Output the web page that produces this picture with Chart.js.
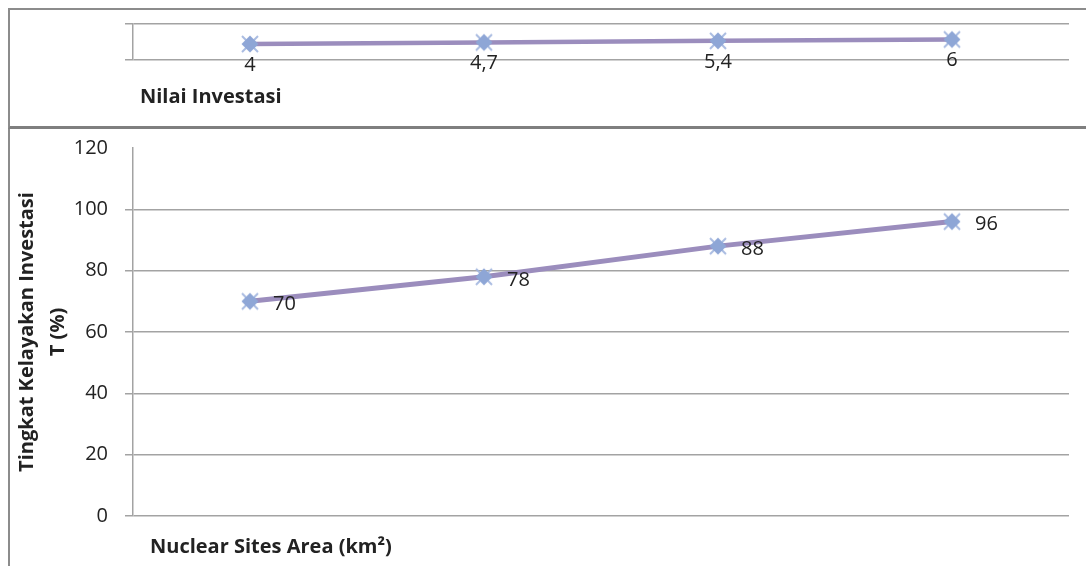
<!DOCTYPE html>
<html><head><meta charset="utf-8">
<script src="https://cdn.jsdelivr.net/npm/chart.js@4"></script>
<style>
html,body{margin:0;padding:0;background:#fff;width:1086px;height:566px;overflow:hidden;position:relative;}
#topPanel{position:absolute;left:8px;top:8px;width:1100px;height:116px;border-top:2px solid #8c8c8c;border-left:2px solid #8c8c8c;border-bottom:3px solid #7f7f7f;}
#leftRule{position:absolute;left:8px;top:129px;width:2px;height:437px;background:#8c8c8c;}
#cTop{position:absolute;left:10px;top:10px;}
#cMain{position:absolute;left:10px;top:130px;}
</style></head>
<body>
<div id="topPanel"></div>
<div id="leftRule"></div>
<canvas id="cTop" width="1076" height="116"></canvas>
<canvas id="cMain" width="1076" height="436"></canvas>
<script>
// ---- data ----
const categories = ['4', '4,7', '5,4', '6'];
const investValues = [4, 4.7, 5.4, 6];
const investLabels = ['4', '4,7', '5,4', '6'];
const feasibility = [70, 78, 88, 96];
const yMin = 0, yMax = 120, yStep = 20;
const topTitle = 'Nilai Investasi';
const xTitle = 'Nuclear Sites Area (km\u00B2)';
const yTitle = ['Tingkat Kelayakan Investasi', 'T (%)'];

const FONT = '"Open Sans", Lato, sans-serif';
const LINE = '#9b8dbd';
const GRID = '#a3a3a3';

function makeMarker() {
  const c = document.createElement('canvas');
  c.width = 22; c.height = 22;
  const g = c.getContext('2d');
  g.strokeStyle = 'rgba(160,180,222,0.9)';
  g.lineWidth = 2;
  g.beginPath(); g.moveTo(3,3); g.lineTo(19,19); g.moveTo(19,3); g.lineTo(3,19); g.stroke();
  g.fillStyle = '#8ea6d6';
  g.beginPath(); g.moveTo(11,2.5); g.lineTo(19.5,11); g.lineTo(11,19.5); g.lineTo(2.5,11); g.closePath(); g.fill();
  return c;
}
const marker = makeMarker();

// ---- top panel ----
const topPlugin = {
  id: 'topLabels',
  afterDatasetsDraw(chart) {
    const ctx = chart.ctx;
    const meta = chart.getDatasetMeta(0);
    ctx.save();
    ctx.font = '20px ' + FONT;
    ctx.fillStyle = '#222';
    ctx.textAlign = 'center';
    ctx.textBaseline = 'middle';
    meta.data.forEach((pt, i) => ctx.fillText(investLabels[i], pt.x, pt.y + 21));
    ctx.font = 'bold 20px ' + FONT;
    ctx.textAlign = 'left';
    ctx.fillText(topTitle, 130, 87);
    ctx.restore();
  }
};

new Chart(document.getElementById('cTop'), {
  type: 'line',
  data: { labels: categories, datasets: [{ data: investValues, borderColor: LINE, borderWidth: 4.5,
    pointStyle: marker, pointRadius: 9, pointHoverRadius: 9, tension: 0 }] },
  options: {
    responsive: false, animation: false, events: [],
    layout: { padding: { left: 0, right: 17, top: 12, bottom: 66 } },
    plugins: { legend: { display: false }, tooltip: { enabled: false } },
    scales: {
      x: { display: false, offset: true },
      y: {
        min: -3, max: 13,
        afterBuildTicks(s) { s.ticks = [{ value: s.min }, { value: s.max }]; },
        afterFit(s) { s.width = 123; s.paddingTop = 0; s.paddingBottom = 0; },
        ticks: { display: false },
        grid: { color: GRID, lineWidth: 1.5, tickLength: 8, tickColor: GRID },
        border: { color: GRID, width: 1.5 }
      }
    }
  },
  plugins: [topPlugin]
});

// ---- main panel ----
const mainPlugin = {
  id: 'mainLabels',
  afterDatasetsDraw(chart) {
    const ctx = chart.ctx;
    const meta = chart.getDatasetMeta(0);
    ctx.save();
    ctx.font = '20px ' + FONT;
    ctx.fillStyle = '#222';
    ctx.textAlign = 'left';
    ctx.textBaseline = 'middle';
    meta.data.forEach((pt, i) => ctx.fillText(String(feasibility[i]), pt.x + 23, pt.y + 3));
    ctx.font = 'bold 20px ' + FONT;
    ctx.fillText(xTitle, chart.chartArea.left + 17, chart.chartArea.bottom + 31);
    ctx.restore();
  }
};

new Chart(document.getElementById('cMain'), {
  type: 'line',
  data: { labels: categories, datasets: [{ data: feasibility, borderColor: LINE, borderWidth: 5,
    pointStyle: marker, pointRadius: 9, pointHoverRadius: 9, tension: 0 }] },
  options: {
    responsive: false, animation: false, events: [],
    layout: { padding: { left: 0, right: 17, top: 18, bottom: 50 } },
    plugins: { legend: { display: false }, tooltip: { enabled: false } },
    scales: {
      x: { display: false, offset: true },
      y: {
        min: yMin, max: yMax,
        afterFit(s) { s.width = 123; s.paddingTop = 0; s.paddingBottom = 0; },
        ticks: { stepSize: yStep, padding: 17, color: '#222', font: { family: FONT, size: 20 } },
        grid: {
          color: c => (c.tick && c.tick.value === yMax) ? 'rgba(0,0,0,0)' : GRID,
          tickColor: c => (c.tick && c.tick.value === yMax) ? 'rgba(0,0,0,0)' : GRID,
          lineWidth: 1.5, tickLength: 8
        },
        border: { color: GRID, width: 1.5 },
        title: { display: true, text: yTitle, color: '#222',
          font: { family: FONT, size: 20, weight: 'bold', lineHeight: 1.55 },
          padding: { top: 2, bottom: 0 } }
      }
    }
  },
  plugins: [mainPlugin]
});
</script>
</body></html>
